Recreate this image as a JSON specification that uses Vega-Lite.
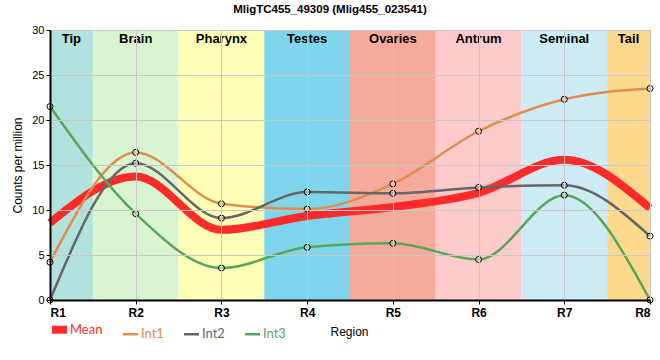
{
  "$schema": "https://vega.github.io/schema/vega-lite/v6.json",
  "width": 600,
  "height": 270,
  "autosize": {"type": "none"},
  "padding": {"left": 50, "top": 30, "right": 10, "bottom": 60},
  "background": "white",
  "title": {"text": "MligTC455_49309 (Mlig455_023541)", "font": "Liberation Sans", "fontSize": 11.5, "fontWeight": "bold", "color": "black", "offset": 9, "anchor": "middle", "frame": "group", "dx": -20},
  "config": {
    "view": {"stroke": "black", "strokeWidth": 1},
    "font": "Liberation Sans"
  },
  "datasets": {
    "regions": [
      {"region": "Tip", "start": 1, "end": 1.5},
      {"region": "Brain", "start": 1.5, "end": 2.5},
      {"region": "Pharynx", "start": 2.5, "end": 3.5},
      {"region": "Testes", "start": 3.5, "end": 4.5},
      {"region": "Ovaries", "start": 4.5, "end": 5.5},
      {"region": "Antrum", "start": 5.5, "end": 6.5},
      {"region": "Seminal", "start": 6.5, "end": 7.5},
      {"region": "Tail", "start": 7.5, "end": 8}
    ],
    "series": [
      {"series": "Mean", "pos": 1, "value": 8.57},
      {"series": "Mean", "pos": 2, "value": 13.73},
      {"series": "Mean", "pos": 3, "value": 7.8},
      {"series": "Mean", "pos": 4, "value": 9.33},
      {"series": "Mean", "pos": 5, "value": 10.33},
      {"series": "Mean", "pos": 6, "value": 11.9},
      {"series": "Mean", "pos": 7, "value": 15.57},
      {"series": "Mean", "pos": 8, "value": 10.2},
      {"series": "Int1", "pos": 1, "value": 4.2},
      {"series": "Int1", "pos": 2, "value": 16.4},
      {"series": "Int1", "pos": 3, "value": 10.7},
      {"series": "Int1", "pos": 4, "value": 10.1},
      {"series": "Int1", "pos": 5, "value": 12.9},
      {"series": "Int1", "pos": 6, "value": 18.75},
      {"series": "Int1", "pos": 7, "value": 22.3},
      {"series": "Int1", "pos": 8, "value": 23.5},
      {"series": "Int2", "pos": 1, "value": 0},
      {"series": "Int2", "pos": 2, "value": 15.2},
      {"series": "Int2", "pos": 3, "value": 9.1},
      {"series": "Int2", "pos": 4, "value": 12.0},
      {"series": "Int2", "pos": 5, "value": 11.85},
      {"series": "Int2", "pos": 6, "value": 12.5},
      {"series": "Int2", "pos": 7, "value": 12.75},
      {"series": "Int2", "pos": 8, "value": 7.1},
      {"series": "Int3", "pos": 1, "value": 21.5},
      {"series": "Int3", "pos": 2, "value": 9.6},
      {"series": "Int3", "pos": 3, "value": 3.55},
      {"series": "Int3", "pos": 4, "value": 5.85},
      {"series": "Int3", "pos": 5, "value": 6.3},
      {"series": "Int3", "pos": 6, "value": 4.5},
      {"series": "Int3", "pos": 7, "value": 11.65},
      {"series": "Int3", "pos": 8, "value": 0}
    ]
  },
  "layer": [
    {
      "data": {"name": "regions"},
      "mark": {"type": "rect"},
      "encoding": {
        "x": {"field": "start", "type": "quantitative", "scale": {"domain": [1, 8], "nice": false, "zero": false},
          "axis": {"title": "Region", "values": [1, 2, 3, 4, 5, 6, 7, 8], "labelExpr": "'R' + datum.value", "grid": true, "gridColor": "#c8c8c8", "gridWidth": 1, "domainColor": "black", "domainWidth": 2, "tickColor": "black", "tickSize": 4, "labelFont": "Liberation Sans", "labelFontSize": 12, "labelFontWeight": "bold", "labelColor": "black", "labelPadding": 3, "titleFont": "Liberation Sans", "titleFontSize": 12, "titleFontWeight": "normal", "titleColor": "black", "titleAnchor": "start", "titleX": 280, "titleY": 26, "zindex": 1}},
        "x2": {"field": "end"},
        "y": {"datum": 0, "type": "quantitative", "scale": {"domain": [0, 30], "nice": false},
          "axis": {"title": "Counts per million", "values": [0, 5, 10, 15, 20, 25, 30], "grid": true, "gridColor": "#c8c8c8", "gridWidth": 1, "domainColor": "black", "domainWidth": 2, "tickColor": "black", "tickSize": 4, "labelFont": "Liberation Sans", "labelFontSize": 11, "labelColor": "black", "titleFont": "Liberation Sans", "titleFontSize": 12, "titleFontWeight": "normal", "titleColor": "black", "titlePadding": 7, "zindex": 1}},
        "y2": {"datum": 30},
        "fill": {"field": "region", "type": "nominal", "legend": null,
          "scale": {"domain": ["Tip", "Brain", "Pharynx", "Testes", "Ovaries", "Antrum", "Seminal", "Tail"],
                    "range": ["#b2e2de", "#d8f5d0", "#ffffb5", "#7fd5ec", "#f5aa9c", "#fdcbcb", "#cdebf4", "#fcd98c"]}}
      }
    },
    {
      "data": {"name": "regions"},
      "transform": [{"calculate": "(datum.start + datum.end) / 2", "as": "mid"}],
      "mark": {"type": "text", "baseline": "top", "dy": 3, "fontSize": 13, "fontWeight": "bold", "font": "Liberation Sans", "color": "black"},
      "encoding": {
        "x": {"field": "mid", "type": "quantitative"},
        "y": {"datum": 30, "type": "quantitative"},
        "text": {"field": "region"}
      }
    },
    {
      "data": {"name": "series"},
      "mark": {"type": "line", "interpolate": "monotone"},
      "encoding": {
        "x": {"field": "pos", "type": "quantitative"},
        "y": {"field": "value", "type": "quantitative"},
        "detail": {"field": "series"},
        "stroke": {"field": "series", "type": "nominal",
          "scale": {"domain": ["Mean", "Int1", "Int2", "Int3"], "range": ["#ff2b2b", "#e08c4c", "#666666", "#5aa55a"]},
          "legend": {"title": null, "orient": "none", "legendX": 3, "legendY": 293, "direction": "horizontal", "symbolType": "stroke", "symbolSize": 225, "labelFont": "Lato", "labelFontSize": 13, "labelOffset": 4, "columnPadding": 15, "symbolOffset": 0,
            "encode": {"labels": {"update": {"fill": {"scale": "stroke", "field": "value"}}},
                       "symbols": {"update": {"strokeWidth": {"signal": "datum.value == 'Mean' ? 8 : 2.5"}}}}}},
        "strokeWidth": {"condition": {"test": "datum.series == 'Mean'", "value": 8}, "value": 2.5}
      }
    },
    {
      "data": {"name": "series"},
      "transform": [{"filter": "datum.series != 'Mean'"}],
      "mark": {"type": "point", "shape": "circle", "filled": true, "fill": "white", "fillOpacity": 0.4, "stroke": "black", "strokeWidth": 1, "size": 36, "opacity": 1},
      "encoding": {
        "x": {"field": "pos", "type": "quantitative"},
        "y": {"field": "value", "type": "quantitative"}
      }
    }
  ]
}
